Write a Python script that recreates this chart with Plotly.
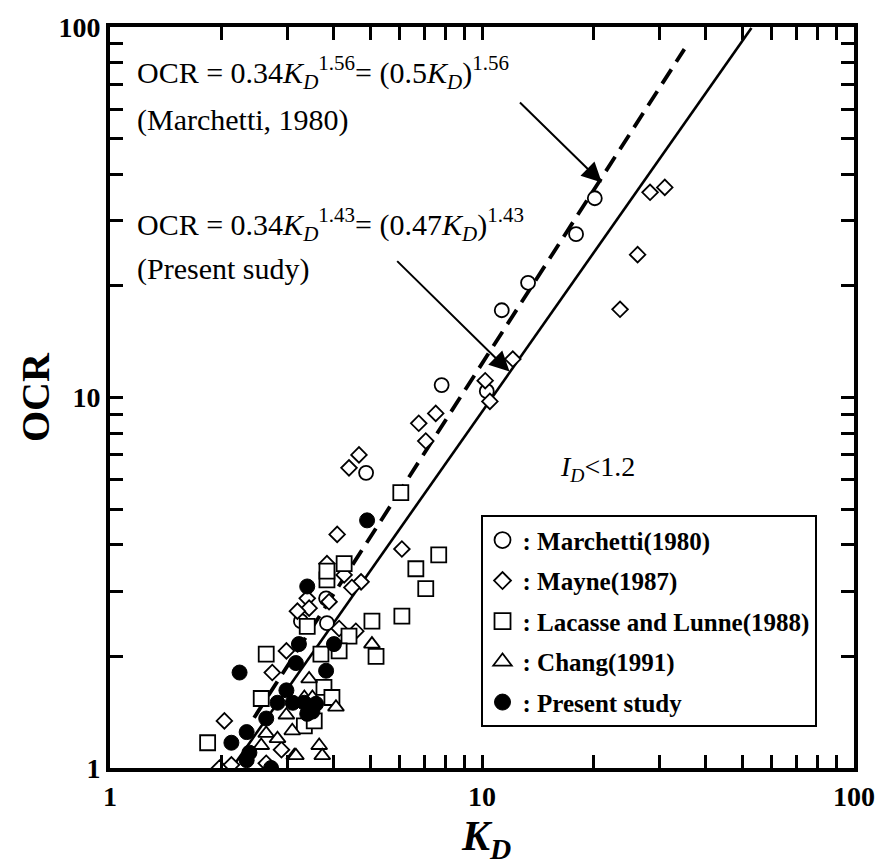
import plotly.graph_objects as go

# ---- data (K_D, OCR) ----
marchetti_kd = [20.1, 17.9, 13.3, 11.3, 7.79, 10.3, 4.88, 3.83, 3.81, 3.26]
marchetti_ocr = [34.5, 27.6, 20.4, 17.2, 10.8, 10.4, 6.26, 2.46, 2.87, 2.49]

mayne_kd = [31.0, 28.3, 26.2, 23.5, 12.1, 10.2, 10.5, 7.51, 6.76, 7.06, 4.67, 4.39, 4.08, 6.09,
            3.83, 4.26, 4.73, 4.47, 3.88, 3.39, 3.43, 3.19, 4.58, 4.13, 2.98, 2.73, 2.03, 1.97,
            2.12, 2.89, 2.63]
mayne_ocr = [36.9, 35.8, 24.3, 17.3, 12.7, 11.1, 9.76, 9.06, 8.52, 7.63, 7.0, 6.46, 4.27, 3.90,
             3.56, 3.32, 3.18, 3.07, 2.81, 2.87, 2.70, 2.65, 2.34, 2.38, 2.07, 1.81, 1.34, 1.0,
             1.02, 1.12, 1.03]

lacasse_kd = [6.05, 7.65, 6.64, 7.06, 6.09, 5.06, 5.19, 4.26, 3.83, 3.83, 3.39, 4.39, 4.13, 3.69,
              2.63, 2.55, 1.83, 3.76, 3.95, 3.33, 3.54]
lacasse_ocr = [5.54, 3.76, 3.45, 3.05, 2.57, 2.49, 2.0, 3.56, 3.22, 3.40, 2.41, 2.27, 2.07, 2.03,
               2.03, 1.54, 1.17, 1.65, 1.55, 1.30, 1.34]

chang_kd = [5.06, 3.43, 4.05, 3.09, 3.65, 3.72, 3.13, 2.98, 2.63, 2.82, 2.55, 3.16, 3.33, 3.50]
chang_ocr = [2.16, 1.74, 1.46, 1.26, 1.15, 1.08, 1.08, 1.39, 1.24, 1.20, 1.15, 1.08, 1.55, 1.55]

present_kd = [4.91, 3.39, 3.22, 4.0, 3.16, 3.81, 2.23, 2.98, 2.82, 3.33, 3.58, 3.39, 2.63, 2.33,
              2.12, 2.37, 2.33, 2.71, 3.10, 3.50]
present_ocr = [4.66, 3.09, 2.16, 2.16, 1.92, 1.83, 1.81, 1.62, 1.50, 1.50, 1.49, 1.40, 1.36, 1.25,
               1.17, 1.10, 1.05, 1.0, 1.50, 1.42]

series_names = [": Marchetti(1980)", ": Mayne(1987)", ": Lacasse and Lunne(1988)",
                ": Chang(1991)", ": Present study"]

# fitted relations OCR = a * K_D^n
marchetti_fit = dict(a=0.34, n=1.56, kd=[2.44, 35.0])
present_fit = dict(a=0.34, n=1.43, kd=[2.13, 53.0])

FONT = "Liberation Serif"

fig = go.Figure()

def fit_y(f):
    return [f["a"] * k ** f["n"] for k in f["kd"]]

fig.add_trace(go.Scatter(x=marchetti_fit["kd"], y=fit_y(marchetti_fit), mode="lines",
                         line=dict(color="black", width=3.8, dash="17px,9px"), showlegend=False))
fig.add_trace(go.Scatter(x=present_fit["kd"], y=fit_y(present_fit), mode="lines",
                         line=dict(color="black", width=2.6), showlegend=False))

mk_line = dict(color="black", width=1.8)
styles = [
    dict(symbol="circle", color="white", line=mk_line),
    dict(symbol="diamond", color="white", line=mk_line),
    dict(symbol="square", color="white", line=mk_line),
    dict(symbol="triangle-up", color="white", line=mk_line),
    dict(symbol="circle", color="black", line=dict(color="black", width=1)),
]
data_sizes = [14, 12, 15, 14, 15]
legend_sizes = [16, 13, 16, 16, 16]
series = [(marchetti_kd, marchetti_ocr), (mayne_kd, mayne_ocr), (lacasse_kd, lacasse_ocr),
          (chang_kd, chang_ocr), (present_kd, present_ocr)]

for (xs, ys), st, sz in zip(series, styles, data_sizes):
    fig.add_trace(go.Scatter(x=xs, y=ys, mode="markers", showlegend=False,
                             marker=dict(size=sz, **st)))
# legend entries (larger symbols, no data)
for i, (nm, st, sz) in enumerate(zip(series_names, styles, legend_sizes)):
    fig.add_trace(go.Scatter(x=[None], y=[None], mode="markers", name=nm, legendgroup=f"g{i}",
                             marker=dict(size=sz, **st)))

axis_common = dict(
    type="log", range=[0, 2], dtick=1, showgrid=False, zeroline=False,
    showline=True, linecolor="black", linewidth=4, mirror="ticks",
    ticks="inside", ticklen=13, tickwidth=2.5, tickcolor="black",
    minor=dict(ticks="inside", ticklen=13, tickwidth=2.5, tickcolor="black", dtick="D1", showgrid=False),
    tickfont=dict(family=FONT, size=28, color="black", weight="bold"),
)
fig.update_xaxes(**axis_common)
fig.update_yaxes(**axis_common)

# axis titles
fig.add_annotation(xref="paper", yref="paper", x=0.505, y=-0.096, xanchor="center", yanchor="middle",
                   showarrow=False, text="<i>K</i><sub><i>D</i></sub>",
                   font=dict(family=FONT, size=42, color="black", weight="bold"))
fig.add_annotation(xref="paper", yref="paper", x=-0.100, y=0.5, xanchor="center", yanchor="middle",
                   showarrow=False, text="OCR", textangle=-90,
                   font=dict(family=FONT, size=40, color="black", weight="bold"))

tfont = dict(family=FONT, size=30, color="black")
ann = [
    dict(text="OCR = 0.34<i>K</i><sub><i>D</i></sub><sup>1.56</sup>= (0.5<i>K</i><sub><i>D</i></sub>)<sup>1.56</sup>",
         x=0.033, y=0.938),
    dict(text="(Marchetti, 1980)", x=0.033, y=0.874),
    dict(text="OCR = 0.34<i>K</i><sub><i>D</i></sub><sup>1.43</sup>= (0.47<i>K</i><sub><i>D</i></sub>)<sup>1.43</sup>",
         x=0.033, y=0.733),
    dict(text="(Present sudy)", x=0.033, y=0.674),
]
for a in ann:
    fig.add_annotation(xref="paper", yref="paper", xanchor="left", yanchor="middle",
                       showarrow=False, font=tfont, **a)
fig.add_annotation(xref="paper", yref="paper", xanchor="left", yanchor="middle",
                   showarrow=False, font=dict(family=FONT, size=28, color="black"),
                   text="<i>I</i><sub><i>D</i></sub><1.2", x=0.602, y=0.404)

arrows = [
    dict(ax=0.549, ay=0.900, x=0.661, y=0.790),
    dict(ax=0.384, ay=0.686, x=0.537, y=0.535),
]
for a in arrows:
    fig.add_annotation(xref="x domain", yref="y domain", axref="x domain", ayref="y domain",
                       text="", showarrow=True, arrowhead=2, arrowsize=2, arrowwidth=2,
                       arrowcolor="black", standoff=0, **a)

fig.update_layout(
    width=887, height=864,
    margin=dict(l=110, r=30, t=20, b=96),
    paper_bgcolor="white", plot_bgcolor="white",
    legend=dict(x=0.498, y=0.341, xanchor="left", yanchor="top",
                bordercolor="black", borderwidth=2, bgcolor="white",
                font=dict(family=FONT, size=25, color="black", weight="bold"),
                tracegroupgap=5, itemwidth=30),
)

fig.write_html("out.html")
